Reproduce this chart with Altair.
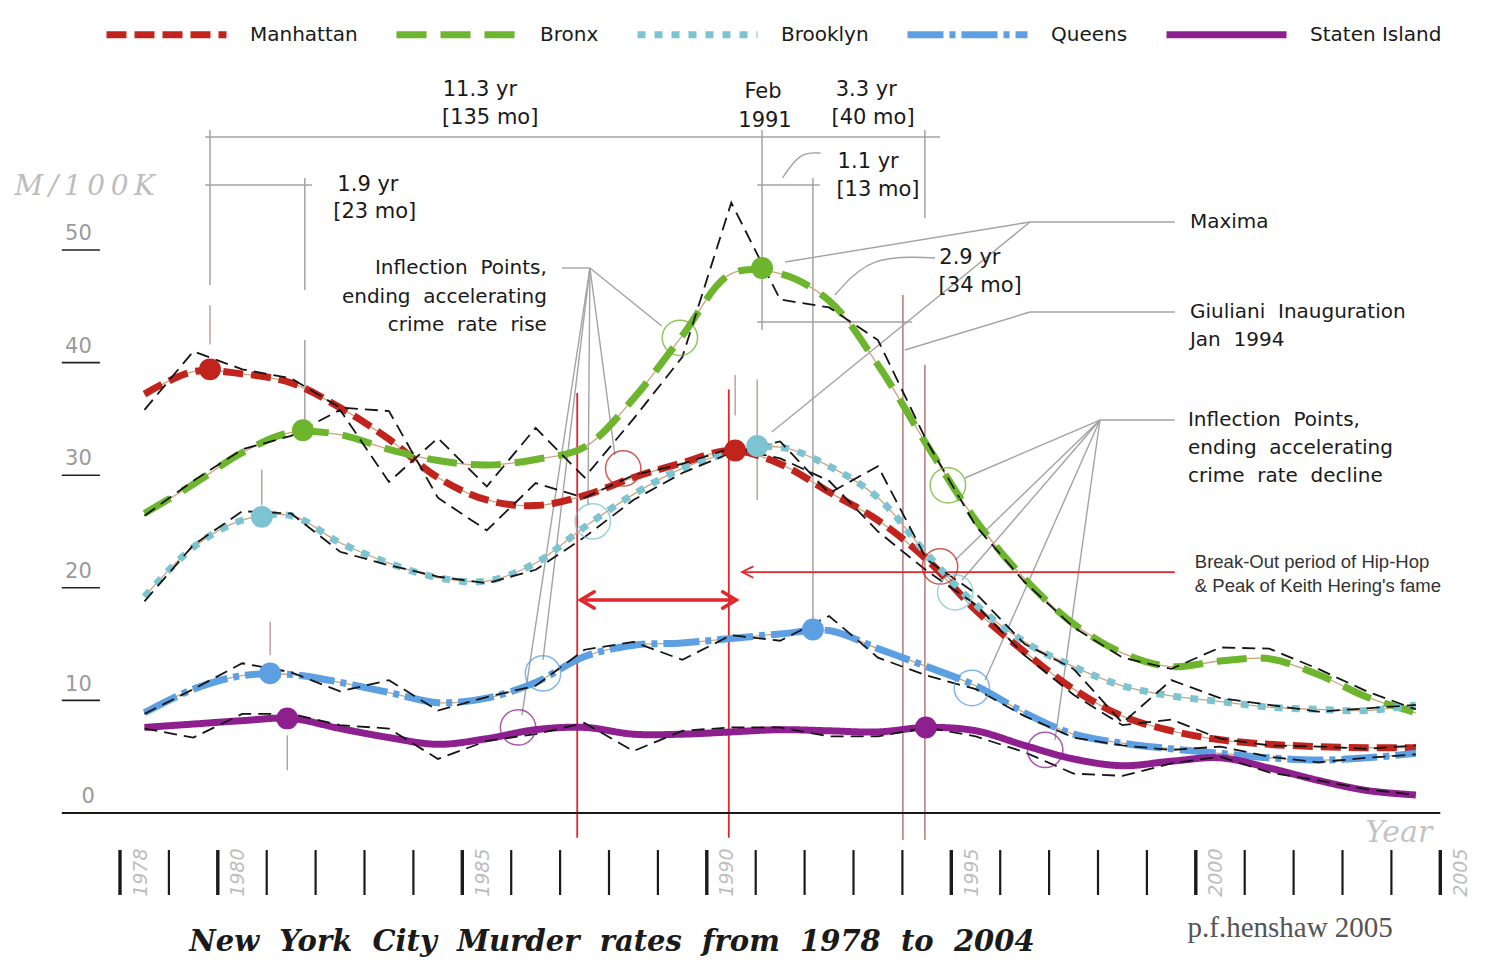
import altair as alt
import pandas as pd

# ------------------------------------------------------------------ data
boroughs = ["Manhattan", "Bronx", "Brooklyn", "Queens", "Staten Island"]
years = list(range(1978, 2005))

# smoothed trend curves (murders per 100K), read at each year's mid-point
trend_manhattan = [37.2, 39.2, 39.0, 38.2, 36.0, 33.2, 29.8, 27.8, 27.3, 28.2, 29.8, 31.1, 32.2, 31.0,
                   28.5, 26.0, 22.5, 18.0, 14.3, 11.0, 8.6, 7.3, 6.5, 6.1, 5.9, 5.8, 5.8]
trend_bronx = [26.6, 29.2, 32.0, 33.8, 33.6, 32.3, 31.3, 30.9, 31.4, 32.5, 36.8, 42.4, 47.9, 47.9,
               45.5, 39.8, 32.7, 26.0, 20.8, 16.8, 14.2, 13.0, 13.5, 13.7, 12.3, 10.3, 8.9]
trend_brooklyn = [19.2, 23.6, 26.0, 26.4, 24.0, 22.2, 20.9, 20.6, 22.2, 25.4, 28.3, 30.6, 32.0, 32.5,
                  30.8, 28.0, 23.0, 18.5, 15.2, 13.0, 11.3, 10.4, 9.9, 9.4, 9.2, 9.1, 9.6]
trend_queens = [8.9, 11.0, 12.2, 12.3, 11.6, 10.7, 9.8, 10.2, 11.6, 13.9, 14.9, 15.1, 15.5, 15.9,
                16.2, 14.6, 13.0, 11.3, 8.9, 7.0, 6.2, 5.7, 5.3, 4.9, 4.7, 4.9, 5.3]
trend_staten = [7.6, 7.9, 8.2, 8.4, 7.5, 6.7, 6.1, 6.6, 7.4, 7.6, 7.0, 7.0, 7.2, 7.4,
                7.3, 7.2, 7.6, 7.3, 6.0, 4.8, 4.2, 4.6, 4.9, 4.0, 2.9, 2.0, 1.6]

# yearly raw rates (thin black dashed)
raw_manhattan = [35.8, 41.0, 39.4, 38.6, 36.0, 35.7, 28.0, 25.1, 29.3, 28.0, 30.0, 31.0, 32.4, 31.5,
                 29.5, 25.0, 21.5, 18.5, 14.0, 10.5, 7.8, 8.3, 6.6, 6.0, 5.9, 5.7, 6.0]
raw_bronx = [26.4, 29.5, 32.3, 33.5, 35.8, 29.4, 33.3, 29.0, 34.2, 29.8, 35.0, 40.5, 54.2, 45.6,
             44.9, 42.0, 33.0, 25.5, 20.5, 16.5, 13.8, 12.8, 14.7, 14.6, 12.8, 10.8, 9.2]
raw_brooklyn = [18.8, 23.8, 26.8, 26.6, 23.2, 22.0, 21.0, 20.4, 21.6, 24.5, 27.8, 30.2, 32.0, 33.0,
                28.4, 30.8, 22.5, 19.5, 15.0, 12.8, 8.0, 11.8, 10.2, 9.6, 9.0, 9.3, 9.6]
raw_queens = [8.8, 11.0, 13.3, 12.5, 10.8, 11.8, 9.1, 10.3, 11.3, 14.5, 15.2, 13.6, 15.8, 15.3,
              17.5, 13.8, 12.2, 11.0, 8.6, 6.7, 6.0, 5.6, 5.9, 5.0, 4.5, 4.9, 5.2]
raw_staten = [7.5, 6.7, 8.8, 8.8, 7.8, 7.5, 4.8, 6.4, 7.0, 8.0, 5.5, 7.3, 7.6, 7.6,
              6.8, 6.8, 7.6, 6.8, 5.4, 3.5, 3.3, 4.4, 5.0, 3.6, 2.9, 2.1, 1.6]

# maxima (filled dots)
max_borough = ["Manhattan", "Bronx", "Brooklyn", "Queens", "Staten Island",
               "Manhattan", "Bronx", "Brooklyn", "Queens", "Staten Island"]
max_year = [1979.84, 1981.74, 1980.90, 1981.07, 1981.42, 1990.58, 1991.13, 1991.03, 1992.17, 1994.48]
max_rate = [39.4, 34.0, 26.3, 12.4, 8.4, 32.2, 48.4, 32.6, 16.3, 7.6]

# inflection points (open circles)
infl_borough = boroughs + boroughs
infl_year = [1988.29, 1989.45, 1987.67, 1986.65, 1986.14, 1994.77, 1994.93, 1995.08, 1995.42, 1996.92]
infl_rate = [30.6, 42.2, 25.9, 12.4, 7.6, 21.9, 29.1, 19.6, 11.1, 5.6]

y_ticks = [0, 10, 20, 30, 40, 50]
x_ticks = list(range(1978, 2006))
x_tick_labels = [1978, 1980, 1985, 1990, 1995, 2000, 2005]

# ------------------------------------------------------------------ styling
series_colors = ["#c0241c", "#6cb52d", "#7cc4d2", "#5c9fe2", "#8e1f8e"]
series_dash = [[20, 8], [30, 14], [8, 9], [36, 6, 6, 6], [1, 0]]
series_width = [7, 7, 5, 7, 8]
col = dict(zip(boroughs, series_colors))

W, H = 1470, 950
PX_YEAR, X_1978 = 48.9, 112.0
PX_UNIT, Y_ZERO = 11.26, 805.0
x_domain = [1978 - X_1978 / PX_YEAR, 1978 + (W - X_1978) / PX_YEAR]
y_domain = [(Y_ZERO - H) / PX_UNIT, Y_ZERO / PX_UNIT]
xs = alt.Scale(domain=x_domain, nice=False, zero=False)
ys = alt.Scale(domain=y_domain, nice=False, zero=False)


def X(f):
    return alt.X(f, type="quantitative", scale=xs, axis=None)


def Y(f):
    return alt.Y(f, type="quantitative", scale=ys, axis=None)


def sp(s):
    return s.replace(" ", "\u00a0\u00a0")


def segs(rows, **kw):
    df = pd.DataFrame(rows, columns=["x", "y", "x2", "y2"])
    return alt.Chart(df).mark_rule(**kw).encode(x=X("x"), y=Y("y"), x2="x2", y2="y2")


def texts(rows, **kw):
    df = pd.DataFrame(rows, columns=["text", "x", "y"])
    return alt.Chart(df).mark_text(**kw).encode(x=X("x"), y=Y("y"), text="text:N")


trend = dict(zip(boroughs, [trend_manhattan, trend_bronx, trend_brooklyn, trend_queens, trend_staten]))
raw = dict(zip(boroughs, [raw_manhattan, raw_bronx, raw_brooklyn, raw_queens, raw_staten]))
trend_df = pd.DataFrame([{"borough": b, "year": yr, "rate": v}
                         for b in boroughs for yr, v in zip(years, trend[b])])
raw_df = pd.DataFrame([{"borough": b, "year": yr, "rate": v}
                       for b in boroughs for yr, v in zip(years, raw[b])])

legend = alt.Legend(title=None, orient="none", legendX=95, legendY=-37, direction="horizontal",
                    symbolType="stroke", symbolSize=14400, symbolStrokeWidth=8,
                    labelFont="DejaVu Sans", labelFontSize=20, labelColor="#1a1a1a",
                    labelOffset=20, columnPadding=24, labelLimit=400)

GRAY = "#a3a3a3"

# dimension lines
dims = segs([
    (1979.74, 60.04, 1994.77, 60.04),
    (1979.74, 55.77, 1981.93, 55.77),
    (1991.03, 55.77, 1992.31, 55.77),
    (1991.03, 43.61, 1994.20, 43.61),
    (1979.84, 60.66, 1979.84, 46.9),
    (1981.78, 56.4, 1981.78, 46.45),
    (1981.78, 42.0, 1981.78, 34.9),
    (1991.13, 60.66, 1991.13, 42.9),
    (1994.46, 60.66, 1994.46, 52.84),
    (1992.17, 56.4, 1992.17, 17.14),
], color=GRAY, strokeWidth=1.5)

near_dots = segs([
    (1979.84, 45.1, 1979.84, 41.6),
    (1980.90, 30.5, 1980.90, 27.3),
    (1981.07, 17.0, 1981.07, 14.0),
    (1981.42, 6.9, 1981.42, 3.8),
    (1990.58, 38.9, 1990.58, 35.3),
    (1991.03, 38.5, 1991.03, 27.8),
], color="#b89a9a", strokeWidth=1.4)

brown = segs([
    (1994.01, 46.0, 1994.01, -2.4),
    (1994.46, 39.8, 1994.46, -2.4),
], color="#b07a7a", strokeWidth=1.5)

reds = segs([
    (1987.35, 37.3, 1987.35, -2.2),
    (1990.45, 37.6, 1990.45, -2.2),
    (1990.72, 21.40, 1999.57, 21.40),
], color="#e3262b", strokeWidth=1.8)

red_double = segs([(1987.50, 18.92, 1990.52, 18.92)], color="#e3262b", strokeWidth=3.5)

leaders = segs([
    (1987.04, 48.40, 1987.61, 48.40),
    (1987.61, 48.40, 1989.08, 43.25),
    (1987.61, 48.40, 1988.12, 31.79),
    (1987.61, 48.40, 1987.57, 27.35),
    (1987.61, 48.40, 1986.65, 13.59),
    (1987.61, 48.40, 1986.22, 8.70),
    (1998.04, 34.90, 1999.57, 34.90),
    (1998.04, 34.90, 1995.28, 29.75),
    (1998.04, 34.90, 1995.08, 22.47),
    (1998.04, 34.90, 1995.22, 20.69),
    (1998.04, 34.90, 1995.69, 11.81),
    (1998.04, 34.90, 1997.12, 6.48),
    (1996.61, 52.49, 1999.57, 52.49),
    (1996.61, 52.49, 1991.60, 48.93),
    (1996.61, 52.49, 1991.33, 33.84),
    (1996.61, 44.49, 1999.57, 44.49),
    (1996.61, 44.49, 1994.05, 41.12),
], color=GRAY, strokeWidth=1.4)

arcs_df = pd.DataFrame({
    "g": ["a", "a", "a", "b", "b", "b"],
    "o": [0, 1, 2, 0, 1, 2],
    "x": [1994.67, 1993.34, 1992.62, 1992.33, 1991.90, 1991.55],
    "y": [49.29, 49.56, 46.0, 58.6, 58.7, 56.4],
})
arcs = alt.Chart(arcs_df).mark_line(interpolate="basis", color=GRAY, strokeWidth=1.4).encode(
    x=X("x"), y=Y("y"), detail="g:N", order="o:Q")

# base thin line under each trend
base = alt.Chart(trend_df).transform_calculate(t="datum.year + 0.5").mark_line(
    interpolate="catmull-rom", color="#c9a47e", strokeWidth=1.3).encode(
    x=X("t"), y=Y("rate"), detail="borough:N")

trend_lines = alt.Chart(trend_df).transform_calculate(t="datum.year + 0.5").mark_line(
    interpolate="catmull-rom", strokeCap="butt").encode(
    x=X("t"), y=Y("rate"),
    color=alt.Color("borough:N", scale=alt.Scale(domain=boroughs, range=series_colors), legend=legend),
    strokeDash=alt.StrokeDash("borough:N", scale=alt.Scale(domain=boroughs, range=series_dash), legend=legend),
    strokeWidth=alt.StrokeWidth("borough:N", scale=alt.Scale(domain=boroughs, range=series_width), legend=None),
)

raw_lines = alt.Chart(raw_df).transform_calculate(t="datum.year + 0.5").mark_line(
    color="#151515", strokeWidth=1.8, strokeDash=[13, 7]).encode(
    x=X("t"), y=Y("rate"), detail="borough:N")

dots_df = pd.DataFrame({"x": max_year, "y": max_rate, "c": [col[b] for b in max_borough]})
dots = alt.Chart(dots_df).mark_circle(size=480, opacity=1).encode(
    x=X("x"), y=Y("y"), color=alt.Color("c:N", scale=None))

infl_df = pd.DataFrame({"x": infl_year, "y": infl_rate, "c": [col[b] for b in infl_borough]})
circles = alt.Chart(infl_df).mark_point(shape="circle", filled=False, size=1250, strokeWidth=1.5,
                                        opacity=0.75).encode(
    x=X("x"), y=Y("y"), color=alt.Color("c:N", scale=None))

arrow_l = alt.Chart(pd.DataFrame({"x": [1987.42], "y": [18.92]})).mark_point(
    shape="M1.5,-0.9L0,0L1.5,0.9", filled=False, size=330, strokeWidth=3.5, color="#e3262b",
    opacity=1, strokeCap="round").encode(x=X("x"), y=Y("y"))
arrow_r = alt.Chart(pd.DataFrame({"x": [1990.60], "y": [18.92]})).mark_point(
    shape="M-1.5,-0.9L0,0L-1.5,0.9", filled=False, size=330, strokeWidth=3.5, color="#e3262b",
    opacity=1, strokeCap="round").encode(x=X("x"), y=Y("y"))
arrow_b = alt.Chart(pd.DataFrame({"x": [1990.72], "y": [21.40]})).mark_point(
    shape="M1.6,-0.8L0,0L1.6,0.8", filled=False, size=200, strokeWidth=1.8, color="#e3262b",
    opacity=1).encode(x=X("x"), y=Y("y"))

# axes drawn from the data scales
axis_line = segs([(1976.81, 0, 2005.0, 0)], color="#1a1a1a", strokeWidth=2)
underlines = segs([(1976.81, v, 1977.59, v) for v in y_ticks if v > 0], color="#222", strokeWidth=1.6)
minor_ticks = segs([(yr, -3.29, yr, -7.28) for yr in x_ticks if yr not in x_tick_labels],
                   color="#1a1a1a", strokeWidth=2.2)
major_ticks = segs([(yr, -3.29, yr, -7.28) for yr in x_tick_labels], color="#1a1a1a", strokeWidth=3.4)

y_labels = texts([(str(v), 1977.15 if v > 0 else 1977.35, v + 1.4) for v in y_ticks],
                 font="DejaVu Sans", fontSize=21, color="#9a9a9a", align="center", baseline="middle")
x_labels = texts([(str(yr), yr + 0.42, -5.3) for yr in x_tick_labels],
                 font="DejaVu Sans", fontSize=19, fontStyle="italic", color="#bdbdbd",
                 align="center", baseline="middle", angle=270)

dim_text = texts([
    ("11.3 yr", 1985.36, 64.2), ("[135 mo]", 1985.57, 61.7),
    ("Feb", 1991.15, 64.0), ("1991", 1991.19, 61.5),
    ("3.3 yr", 1993.26, 64.2), ("[40 mo]", 1993.40, 61.7),
    ("1.9 yr", 1983.07, 55.8), ("[23 mo]", 1983.21, 53.4),
    ("1.1 yr", 1993.30, 57.8), ("[13 mo]", 1993.50, 55.3),
    ("2.9 yr", 1995.38, 49.3), ("[34 mo]", 1995.59, 46.8),
], font="DejaVu Sans", fontSize=21, color="#1a1a1a", align="center", baseline="middle")

rise_text = texts([
    (sp("Inflection Points,"), 1986.73, 48.40),
    (sp("ending accelerating"), 1986.73, 45.83),
    (sp("crime rate rise"), 1986.73, 43.34),
], font="DejaVu Sans", fontSize=20, color="#1a1a1a", align="right", baseline="middle")

right_text = texts([
    ("Maxima", 1999.88, 52.49),
    (sp("Giuliani Inauguration"), 1999.88, 44.49),
    (sp("Jan 1994"), 1999.88, 42.01),
    (sp("Inflection Points,"), 1999.84, 34.90),
    (sp("ending accelerating"), 1999.84, 32.42),
    (sp("crime rate decline"), 1999.84, 29.93),
], font="DejaVu Sans", fontSize=20, color="#1a1a1a", align="left", baseline="middle")

hiphop_text = texts([
    ("Break-Out period of Hip-Hop", 1999.98, 22.29),
    ("& Peak of Keith Hering's fame", 1999.98, 20.16),
], font="Liberation Sans", fontSize=18.5, color="#333", align="left", baseline="middle")

unit_text = texts([("M\u2009/\u20091\u20090\u20090\u2009K", 1977.28, 55.6)],
                  font="DejaVu Serif", fontSize=28, fontStyle="italic", color="#bdbdbd",
                  align="center", baseline="middle")
year_text = texts([("Year", 2004.15, -1.75)], font="DejaVu Serif", fontSize=30, fontStyle="italic",
                  color="#c4c4c4", align="center", baseline="middle")
credit_text = texts([("p.f.henshaw 2005", 2001.93, -10.2)], font="Liberation Serif", fontSize=29,
                    color="#555", align="center", baseline="middle")
title_text = texts([(sp("New York City Murder rates from 1978 to 2004"), 1988.06, -11.45)],
                   font="DejaVu Serif", fontSize=29, fontStyle="italic", fontWeight="bold",
                   color="#1a1a1a", align="center", baseline="middle")

chart = alt.layer(
    dims, near_dots, brown, leaders, arcs, reds, red_double,
    base, trend_lines, raw_lines, dots, circles,
    arrow_l, arrow_r, arrow_b,
    axis_line, underlines, minor_ticks, major_ticks,
    y_labels, x_labels, dim_text, rise_text, right_text, hiphop_text,
    unit_text, year_text, credit_text, title_text,
).properties(
    width=W, height=H, autosize=alt.AutoSizeParams(type="none"), padding=0, background="white"
).configure_view(stroke=None)

chart.save("out.html", embed_options={"renderer": "svg", "actions": False})
